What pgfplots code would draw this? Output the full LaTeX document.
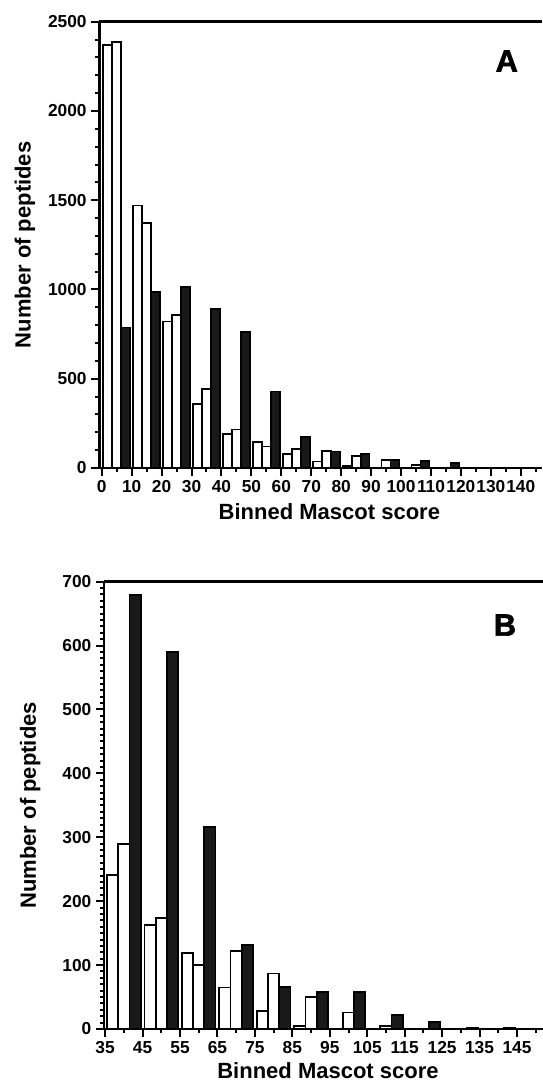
\documentclass[border=0pt]{standalone}
\usepackage{fontspec}
\setmainfont{Liberation Sans}
\newfontfamily\heavyfont[FakeBold=2]{Liberation Sans Bold}
\usepackage{pgfplots}
\pgfplotsset{compat=1.18}
\newcommand{\labfont}{\bfseries\fontsize{16.5}{16.5}\selectfont}
\pgfplotsset{
  hist/.style={
    scale only axis,
    axis x line*=box, axis y line*=left,
    axis line style={line width=2pt, black},
    xtick pos=bottom, ytick pos=left,
    tick align=outside,
    major tick length=6pt, minor tick length=3pt,
    every tick/.style={line width=1.5pt, black},
    tick label style={font=\bfseries\fontsize{13}{13}\selectfont},
    /pgf/number format/assume math mode=true,
    /pgf/number format/1000 sep={},
    ylabel={Number of peptides},
    xlabel={Binned Mascot score},
    every axis y label/.style={at={(axis description cs:-0.168,0.5)}, rotate=90, anchor=center, font=\labfont},
    every axis x label/.style={at={(axis description cs:0.52,-0.097)}, anchor=center, font=\labfont},
  },
  wbar/.style={ybar, bar width=3, bar shift=0pt, fill=white, draw=black, line width=1.3pt},
  bbar/.style={ybar, bar width=3, bar shift=0pt, fill=black!90, draw=black, line width=1.3pt},
}
\begin{document}
\begin{tikzpicture}
\useasboundingbox (0,0) rectangle (407.25pt,814.5pt);
% Panel A
\begin{axis}[hist,
  at={(74.5pt,463.5pt)}, anchor=south west,
  width=331.8pt, height=334.7pt,
  xmin=-0.8, xmax=147, ymin=0, ymax=2500,
  xtick={0,10,...,140}, minor xtick={5,15,...,145},
  ytick={0,500,...,2500}, minor y tick num=4,
]
\addplot[wbar] coordinates {(2,2370) (12,1470) (22,821) (32,358) (42,192) (52,146) (62,78) (72,37) (82,11)};
\addplot[wbar] coordinates {(5,2385) (15,1371) (25,858) (35,444) (45,215) (55,120) (65,108) (75,96) (85,67) (95,45) (105,15) (115,3)};
\addplot[bbar] coordinates {(8,787) (18,985) (28,1013) (38,892) (48,761) (58,429) (68,175) (78,92) (88,78) (98,45) (108,38) (118,28) (128,2)};
\node[font=\heavyfont\fontsize{23}{23}\selectfont] at (axis description cs:0.921,0.912) {A};
\end{axis}
% Panel B
\begin{axis}[hist,
  at={(78pt,42.75pt)}, anchor=south west,
  width=329.4pt, height=335.5pt,
  xmin=34.7, xmax=152, ymin=0, ymax=700,
  xtick={35,45,...,145}, minor xtick={40,50,...,150},
  ytick={0,100,...,700}, minor y tick num=9,
  every axis x label/.style={at={(axis description cs:0.51,-0.092)}, anchor=center, font=\labfont},
]
\addplot[wbar] coordinates {(37,241) (47,163) (57,119) (67,65) (77,28) (87,5)};
\addplot[wbar] coordinates {(40,290) (50,174) (60,100) (70,122) (80,87) (90,50) (100,26) (110,5)};
\addplot[bbar] coordinates {(43,679) (53,590) (63,316) (73,132) (83,66) (93,58) (103,58) (113,22) (123,11) (133,1) (143,1)};
\node[font=\heavyfont\fontsize{23}{23}\selectfont] at (axis description cs:0.913,0.903) {B};
\end{axis}
\end{tikzpicture}
\end{document}
